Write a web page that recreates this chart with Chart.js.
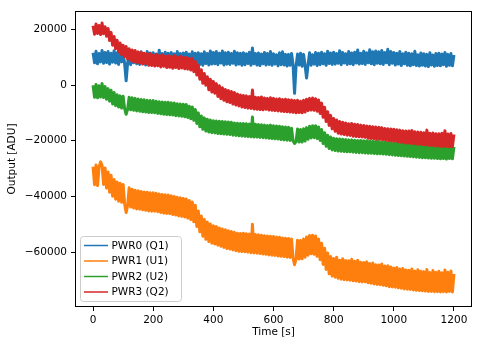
<!DOCTYPE html>
<html>
<head>
<meta charset="utf-8">
<script src="https://cdn.jsdelivr.net/npm/chart.js@4/dist/chart.umd.min.js"></script>
<style>
  html, body { margin: 0; padding: 0; background: #ffffff; }
  #chart { display: block; }
</style>
</head>
<body>
<canvas id="chart" width="483" height="347"></canvas>
<script>
// Tiempo de muestreo [s]
const tiempos = [
  0,5,10,15,20,25,30,35,40,45,50,55,60,65,70,75,80,85,90,95,
  100,105,110,115,120,125,130,135,140,145,150,155,160,165,170,175,180,185,190,195,
  200,205,210,215,220,225,230,235,240,245,250,255,260,265,270,275,280,285,290,295,
  300,305,310,315,320,325,330,335,340,345,350,355,360,365,370,375,380,385,390,395,
  400,405,410,415,420,425,430,435,440,445,450,455,460,465,470,475,480,485,490,495,
  500,505,510,515,520,525,530,535,540,545,550,555,560,565,570,575,580,585,590,595,
  600,605,610,615,620,625,630,635,640,645,650,655,660,665,670,675,680,685,690,695,
  700,705,710,715,720,725,730,735,740,745,750,755,760,765,770,775,780,785,790,795,
  800,805,810,815,820,825,830,835,840,845,850,855,860,865,870,875,880,885,890,895,
  900,905,910,915,920,925,930,935,940,945,950,955,960,965,970,975,980,985,990,995,
  1000,1005,1010,1015,1020,1025,1030,1035,1040,1045,1050,1055,1060,1065,1070,1075,1080,1085,1090,1095,
  1100,1105,1110,1115,1120,1125,1130,1135,1140,1145,1150,1155,1160,1165,1170,1175,1180,1185,1190,1195,
  1200
];

// Salida de cada canal [ADU]
const pwr0 = [
  11600, 8000, 12100, 7600, 11300, 8300, 12400, 7800, 11700, 8100,
  12000, 7500, 11400, 8200, 12300, 7900, 11600, 7400, 11900, 8300,
  11500, 7700, 1500, 7900, 12100, 7300, 11800, 8000, 11400, 7600,
  11300, 7400, 11900, 7800, 11200, 7200, 12000, 7700, 11500, 7500,
  11600, 7300, 11100, 7900, 12500, 7400, 11300, 7600, 11800, 7200,
  11400, 7500, 11700, 7100, 11200, 7800, 12000, 7400, 11300, 7300,
  11500, 7200, 11800, 7600, 11100, 7000, 11900, 7500, 11400, 7300,
  11600, 7400, 11200, 7100, 11900, 7700, 11300, 7200, 12200, 7500,
  11700, 7600, 12000, 7300, 11400, 7900, 12200, 7200, 11600, 7500,
  11800, 7400, 11300, 7800, 12100, 7200, 11600, 7500, 11400, 7100,
  11600, 7300, 11200, 7700, 11800, 7100, 13300, 7600, 11300, 7200,
  11500, 7000, 11100, 7600, 11700, 7200, 11300, 7400, 12000, 7100,
  11200, 7500, 10900, 6900, 11600, 7300, 11900, 7200, 11000, 6800,
  11000, 7100, 11300, 7300, -3000, 6800, 11100, 7200, 11400, 6700,
  11000, 7000, 2500, 7400, 11600, 7100, 10900, 7500, 11700, 7000,
  11400, 7300, 11800, 7600, 11200, 7100, 12100, 7700, 11500, 7400,
  11800, 7500, 11300, 7800, 12300, 7300, 11700, 7900, 11200, 7400,
  12000, 7600, 11500, 7300, 11800, 7900, 12600, 7500, 11400, 7700,
  12100, 7400, 11600, 8000, 12700, 7600, 11900, 7300, 12200, 7800,
  11900, 7600, 12400, 7400, 11700, 8000, 12800, 7300, 12000, 7800,
  11700, 7200, 11400, 7500, 12000, 7000, 11200, 7600, 11800, 7100,
  11400, 6900, 11200, 7300, 12100, 7000, 10900, 6800, 11500, 7100,
  11200, 6800, 11000, 6600, 11600, 7200, 10800, 6700, 11300, 7000,
  11400, 6900, 11100, 7300, 11700, 6700, 11000, 7100, 11300, 6900,
  10800
];

const pwr1 = [
  -29300, -35800, -28700, -36100, -29500, -27600, -28900, -35700, -29800, -37000,
  -31200, -38500, -32400, -39900, -33900, -41000, -34800, -41700, -35300, -42100,
  -35700, -42600, -45800, -43200, -36900, -43800, -37400, -44200, -37800, -44500,
  -38000, -44600, -38200, -44800, -38400, -45000, -38500, -45200, -38700, -45300,
  -38700, -45300, -38900, -45500, -39100, -45800, -39300, -46000, -39400, -46100,
  -39500, -46200, -39800, -46500, -40000, -46700, -40300, -47000, -40500, -47200,
  -40700, -47400, -40900, -47800, -41500, -48300, -42000, -49100, -43200, -50800,
  -45200, -52700, -47000, -54300, -48300, -55400, -49200, -56200, -49900, -56800,
  -50500, -57100, -50800, -57500, -51300, -57900, -51700, -58300, -52000, -58700,
  -52300, -58900, -52600, -59200, -52900, -59500, -53200, -59700, -53300, -59800,
  -53200, -59900, -53400, -60000, -53500, -60200, -50000, -60300, -53700, -60400,
  -53800, -60500, -53900, -60700, -54100, -60800, -54200, -61000, -54300, -61100,
  -54400, -61200, -54600, -61400, -54700, -61500, -54900, -61600, -55000, -61800,
  -55100, -61900, -55300, -62100, -64500, -62300, -55700, -62500, -55800, -62400,
  -55300, -61800, -54600, -61100, -54000, -60600, -53900, -60800, -54200, -61500,
  -55300, -62700, -56800, -64400, -58600, -66200, -60300, -67800, -61600, -68600,
  -62300, -69000, -61800, -69400, -62900, -69700, -62400, -69900, -63000, -70000,
  -63100, -70100, -62600, -70300, -63300, -70400, -62900, -70600, -63600, -70700,
  -63700, -70700, -63500, -71000, -64100, -71200, -63900, -71400, -64500, -71600,
  -64600, -71700, -64300, -71900, -65000, -72100, -64900, -72400, -65300, -72500,
  -65700, -72600, -65500, -72800, -66100, -73000, -65900, -73200, -66400, -73300,
  -66500, -73400, -66100, -73600, -66800, -73700, -66300, -73800, -66900, -73900,
  -67000, -74000, -66200, -74100, -67300, -74100, -66600, -74200, -67200, -74200,
  -66900, -74300, -67400, -74200, -66400, -74300, -67200, -74100, -66800, -74300,
  -67800
];

const pwr2 = [
  -100, -4400, 200, -4600, -300, -4300, 500, -4500, -500, -5100,
  -1300, -5800, -1900, -6800, -2700, -7400, -3500, -7900, -3900, -8300,
  -4000, -8500, -10500, -8700, -4400, -8900, -4600, -9100, -4800, -9300,
  -5000, -9400, -5200, -9600, -5300, -9700, -5500, -9900, -5600, -9900,
  -5600, -10000, -5800, -10200, -6000, -10300, -6100, -10500, -6200, -10600,
  -6200, -10700, -6400, -10800, -6500, -11000, -6700, -11100, -6800, -11200,
  -6900, -11400, -7000, -11700, -7600, -12100, -7900, -12700, -8800, -13800,
  -10000, -15000, -11100, -15900, -11800, -16500, -12300, -16900, -12600, -17100,
  -12800, -17200, -12900, -17400, -13000, -17500, -13100, -17600, -13200, -17700,
  -13300, -17800, -13400, -18000, -13600, -18100, -13700, -18200, -13800, -18300,
  -13800, -18400, -13900, -18500, -14000, -18600, -11500, -18700, -14100, -18700,
  -14200, -18800, -14300, -18900, -14400, -19000, -14500, -19100, -14400, -19200,
  -14600, -19300, -14700, -19400, -14800, -19600, -15000, -19700, -15100, -19800,
  -15200, -19900, -15500, -20100, -21000, -20300, -15800, -20500, -16000, -20500,
  -15700, -20100, -15300, -19500, -14800, -19000, -14600, -18900, -14600, -19200,
  -15100, -19900, -16000, -21000, -17100, -22000, -18000, -22800, -18700, -23300,
  -19100, -23500, -19300, -23700, -19400, -23800, -19500, -23900, -19600, -24000,
  -19700, -24000, -19700, -24100, -19800, -24200, -19900, -24300, -19900, -24300,
  -20000, -24400, -20000, -24500, -20100, -24500, -20200, -24600, -20200, -24700,
  -20300, -24700, -20400, -24800, -20500, -24900, -20600, -25000, -20700, -25100,
  -20800, -25200, -20900, -25300, -21000, -25400, -21100, -25500, -21200, -25600,
  -21300, -25700, -21400, -25800, -21500, -25900, -21600, -26000, -21700, -26100,
  -21800, -26100, -21700, -26200, -21900, -26300, -21800, -26300, -22000, -26400,
  -22000, -26500, -21900, -26400, -22100, -26600, -21800, -26400, -22000, -26500,
  -22200
];

const pwr3 = [
  21300, 18200, 21900, 18500, 21400, 18100, 22300, 18400, 20900, 17500,
  20300, 16000, 18900, 14300, 17400, 13000, 16100, 11900, 15100, 10900,
  14300, 10200, 13800, 9400, 13000, 8900, 12600, 8300, 12400, 8200,
  11900, 7900, 11800, 7500, 11400, 7600, 11200, 7100, 11300, 7000,
  10800, 6800, 11000, 6900, 10600, 6500, 10900, 6700, 10400, 6300,
  10500, 6400, 10200, 6000, 10600, 6300, 10100, 5900, 10300, 6100,
  10000, 5800, 9900, 5700, 9600, 5400, 9500, 4800, 8500, 3600,
  7100, 2100, 5500, 600, 4100, -100, 3000, -1700, 2100, -2500,
  1300, -3000, 500, -4100, -300, -4900, -1000, -5500, -1600, -6000,
  -2000, -6300, -2300, -6800, -2700, -7200, -3200, -7500, -3600, -7900,
  -3800, -8100, -3900, -8300, -4100, -8400, -1800, -8600, -4400, -8700,
  -4500, -8800, -4300, -8900, -4700, -8700, -4800, -9000, -4600, -9100,
  -4800, -9200, -5000, -9300, -4900, -9400, -5200, -9500, -5100, -9600,
  -5300, -9700, -5400, -9800, -5600, -10000, -5500, -9900, -5800, -10000,
  -5500, -9700, -5100, -9200, -4800, -9000, -4700, -9100, -4900, -9400,
  -5400, -10200, -6500, -11600, -8000, -13100, -9600, -14500, -10900, -15700,
  -12000, -16600, -12600, -17300, -13100, -17600, -13400, -17800, -13600, -18000,
  -13900, -18100, -13800, -18400, -14100, -18500, -14200, -18600, -14400, -18700,
  -14500, -18800, -14700, -19100, -14800, -19200, -15000, -19300, -15100, -19500,
  -15200, -19500, -15300, -19700, -15600, -19800, -15700, -20000, -15800, -20100,
  -15900, -20200, -16100, -20400, -16200, -20600, -16400, -20700, -16500, -20800,
  -16500, -20900, -16300, -21100, -16800, -21200, -16900, -21300, -17000, -21400,
  -17100, -21500, -16200, -21600, -17300, -21700, -17200, -21800, -17500, -21900,
  -17500, -22000, -17300, -22100, -16400, -22000, -17600, -22200, -17400, -22100,
  -17700
];

const etiquetas = ['PWR0 (Q1)', 'PWR1 (U1)', 'PWR2 (U2)', 'PWR3 (Q2)'];
const colores = ['#1f77b4', '#ff7f0e', '#2ca02c', '#d62728'];
const series = [pwr0, pwr1, pwr2, pwr3];
const ticksX = [0, 200, 400, 600, 800, 1000, 1200];
const ticksY = [-60000, -40000, -20000, 0, 20000];

const fuente = { family: 'DejaVu Sans', size: 10.5 };

// Signo menos tipográfico en las etiquetas
function formato(v) {
  return v < 0 ? '\u2212' + Math.abs(v) : String(v);
}

// Marco completo alrededor del área de datos
const marco = {
  id: 'marco',
  afterDatasetsDraw(chart) {
    const { ctx, chartArea: a } = chart;
    ctx.save();
    ctx.strokeStyle = '#000000';
    ctx.lineWidth = 1;
    ctx.strokeRect(Math.round(a.left) + 0.5, Math.round(a.top) + 0.5,
      Math.round(a.right - a.left) - 1, Math.round(a.bottom - a.top) - 1);
    ctx.restore();
  }
};

// Leyenda dentro del gráfico, abajo a la izquierda
const leyenda = {
  id: 'leyenda',
  afterDraw(chart) {
    const { ctx, chartArea: a } = chart;
    const x = a.left + 5.5, y = a.bottom - 70.5, w = 101, h = 65, r = 3;
    ctx.save();
    ctx.beginPath();
    ctx.moveTo(x + r, y);
    ctx.arcTo(x + w, y, x + w, y + h, r);
    ctx.arcTo(x + w, y + h, x, y + h, r);
    ctx.arcTo(x, y + h, x, y, r);
    ctx.arcTo(x, y, x + w, y, r);
    ctx.closePath();
    ctx.fillStyle = 'rgba(255,255,255,0.8)';
    ctx.fill();
    ctx.strokeStyle = '#cccccc';
    ctx.lineWidth = 1;
    ctx.stroke();
    ctx.font = fuente.size + 'px "' + fuente.family + '"';
    ctx.textBaseline = 'middle';
    ctx.textAlign = 'left';
    chart.data.datasets.forEach((ds, i) => {
      const fy = y + 9 + i * 15.5;
      ctx.beginPath();
      ctx.moveTo(x + 3.5, fy);
      ctx.lineTo(x + 27.5, fy);
      ctx.strokeStyle = ds.borderColor;
      ctx.lineWidth = 1.5;
      ctx.stroke();
      ctx.fillStyle = '#000000';
      ctx.fillText(ds.label, x + 31, fy + 0.5);
    });
    ctx.restore();
  }
};

const ctx = document.getElementById('chart').getContext('2d');
const grafico = new Chart(ctx, {
  type: 'line',
  data: {
    datasets: series.map((valores, i) => ({
      label: etiquetas[i],
      data: tiempos.map((t, k) => ({ x: t, y: valores[k] })),
      borderColor: colores[i],
      backgroundColor: colores[i],
      borderWidth: 3,
      borderJoinStyle: 'round',
      pointRadius: 0,
      tension: 0,
      fill: false,
      order: series.length - 1 - i
    }))
  },
  options: {
    responsive: false,
    animation: false,
    events: [],
    layout: { padding: { left: 0, top: 11, right: 11, bottom: 0 } },
    plugins: {
      legend: { display: false },
      tooltip: { enabled: false }
    },
    scales: {
      x: {
        type: 'linear',
        min: -60,
        max: 1260,
        afterBuildTicks: (s) => { s.ticks = ticksX.map(v => ({ value: v })); },
        afterFit: (s) => { s.height = 40; },
        grid: { display: true, drawOnChartArea: false, drawTicks: true, tickLength: 4, color: '#000000', lineWidth: 1 },
        border: { display: false },
        ticks: { color: '#000000', font: fuente, padding: 3, maxRotation: 0, autoSkip: false, callback: formato },
        title: { display: true, text: 'Time [s]', color: '#000000', font: fuente, padding: { top: 0, bottom: 8 } }
      },
      y: {
        type: 'linear',
        min: -79700,
        max: 26570,
        afterBuildTicks: (s) => { s.ticks = ticksY.map(v => ({ value: v })); },
        afterFit: (s) => { s.width = 75; },
        grid: { display: true, drawOnChartArea: false, drawTicks: true, tickLength: 4, color: '#000000', lineWidth: 1 },
        border: { display: false },
        ticks: { color: '#000000', font: fuente, padding: 4, autoSkip: false, callback: formato },
        title: { display: true, text: 'Output [ADU]', color: '#000000', font: fuente, padding: { top: 6, bottom: 0 } }
      }
    }
  },
  plugins: [marco, leyenda]
});
</script>
</body>
</html>
